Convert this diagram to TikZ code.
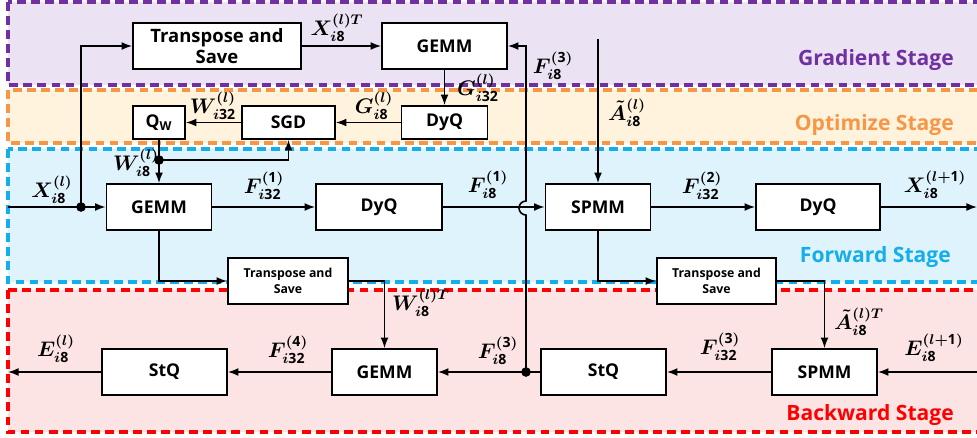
\documentclass[tikz,border=0pt]{standalone}
\usepackage{fontspec}
\setsansfont{Open Sans}
\usepackage{amsmath}
\usetikzlibrary{arrows.meta}
\definecolor{stgPurpleLine}{HTML}{7030A0}
\definecolor{stgPurpleBg}{HTML}{EBE3F3}
\definecolor{stgOrangeLine}{HTML}{F79646}
\definecolor{stgOrangeBg}{HTML}{FFF3DD}
\definecolor{stgBlueLine}{HTML}{14AEEA}
\definecolor{stgBlueBg}{HTML}{DFF3FC}
\definecolor{stgRedLine}{HTML}{FF0000}
\definecolor{stgRedBg}{HTML}{FDE4E4}
\newcommand{\qb}[1]{\text{\sffamily\bfseries #1}}
\tikzset{
  flow arrow/.style={
    -{Latex[length=6pt, width=4.5pt]},
    line width=0.9pt, color=black,
  },
  flow line/.style={line width=0.9pt, color=black},
  op box/.style={
    rectangle, draw=black, fill=white, line width=1pt,
    minimum height=0.92cm, inner sep=0pt,
    font=\sffamily\bfseries\fontsize{10}{11}\selectfont,
    align=center,
  },
  small box/.style={op box, minimum height=0.66cm},
  var label/.style={font=\fontsize{12}{14}\selectfont\boldmath, inner sep=0pt},
  stage area/.style={dash pattern=on 5pt off 3pt, line width=2.2pt},
  stage name/.style={font=\sffamily\bfseries\fontsize{12}{14}\selectfont, anchor=east},
  junction/.style={circle, fill=black, inner sep=0pt, minimum size=5.5pt},
}
\begin{document}
\begin{tikzpicture}[x=0.02cm, y=-0.02cm]
\useasboundingbox (0,0) rectangle (977,437);
\clip (0,0) rectangle (977,437);

% --- STAGE AREAS ---
\draw[stage area, draw=stgPurpleLine, fill=stgPurpleBg] (8,2) rectangle (995,85);
\draw[stage area, draw=stgOrangeLine, fill=stgOrangeBg] (8,90) rectangle (995,143);
\draw[stage area, draw=stgBlueLine, fill=stgBlueBg] (8,149) rectangle (995,282);
\draw[stage area, draw=stgRedLine, fill=stgRedBg] (8,290) rectangle (995,432);

\node[stage name, text=stgPurpleLine] (nGrad) at (960,60) {Gradient Stage};
\node[stage name, text=stgOrangeLine] (nOpt) at (960,125) {Optimize Stage};
\node[stage name, text=stgBlueLine] (nFwd) at (957,257) {Forward Stage};
\node[stage name, text=stgRedLine] (nBwd) at (960,415) {Backward Stage};

% --- GRADIENT / OPTIMIZE BLOCKS ---
\node[op box, minimum width=3.36cm, font=\sffamily\bfseries\fontsize{10.5}{12}\selectfont]
  (tsT) at (217,46) {Transpose and\\Save};
\node[op box, minimum width=2.5cm] (gemmT) at (444.5,46) {GEMM};
\node[small box, minimum width=1.04cm] (qw) at (159,122.5) {Q\textsubscript{W}};
\node[small box, minimum width=1.86cm] (sgd) at (288.5,122.5) {SGD};
\node[small box, minimum width=1.72cm] (dyqO) at (444.5,122.5) {DyQ};

% --- FORWARD BLOCKS ---
\node[op box, minimum width=2.1cm] (gemmF) at (159,207) {GEMM};
\node[op box, minimum width=2.52cm] (dyqF) at (379,207) {DyQ};
\node[op box, minimum width=2.1cm] (spmmF) at (598,207) {SPMM};
\node[op box, minimum width=2.48cm] (dyqF2) at (818,207) {DyQ};
\node[op box, minimum width=2.4cm, font=\sffamily\bfseries\fontsize{7}{9}\selectfont]
  (tsL) at (288,281) {Transpose and\\Save};
\node[op box, minimum width=2.38cm, font=\sffamily\bfseries\fontsize{7}{9}\selectfont]
  (tsR) at (716.5,281) {Transpose and\\Save};

% --- BACKWARD BLOCKS ---
\node[op box, minimum width=2.5cm] (stqL) at (164.5,372) {StQ};
\node[op box, minimum width=2.1cm] (gemmB) at (384.5,372) {GEMM};
\node[op box, minimum width=2.5cm] (stqR) at (603.5,372) {StQ};
\node[op box, minimum width=2.1cm] (spmmB) at (824.5,372) {SPMM};

% --- FREE ENDS AND JUNCTIONS ---
\coordinate (xin) at (8,207);
\coordinate (xout) at (977,207);
\coordinate (ein) at (977,372);
\coordinate (eout) at (8,372);
\coordinate (atin) at (598,39);
\node[junction] (jx) at (81,207) {};
\node[junction] (jw) at (159,160) {};
\node[junction] (jf) at (526,372) {};

% --- CONNECTORS ---
\draw[flow arrow] (xin) -- (gemmF.west);
\draw[flow arrow] (jx.center) |- (tsT.west);
\draw[flow arrow] (tsT) -- (gemmT);
\draw[flow arrow] (gemmT.south) -- (dyqO.north);
\draw[flow arrow] (dyqO) -- (sgd);
\draw[flow arrow] (sgd) -- (qw);
\draw[flow line] (qw.south) -- (jw.center);
\draw[flow arrow] (jw.center) -- (gemmF.north);
\draw[flow arrow] (jw.center) -| (sgd.south);
\foreach \a/\b in {gemmF/dyqF, dyqF/spmmF, spmmF/dyqF2} {
  \draw[flow arrow] (\a) -- (\b);
}
\draw[flow arrow] (dyqF2) -- (xout);
\draw[flow arrow] (atin) -- (spmmF.north);
\draw[flow arrow] (gemmF.south) |- (tsL.west);
\draw[flow arrow] (tsL.east) -| (gemmB.north);
\draw[flow arrow] (spmmF.south) |- (tsR.west);
\draw[flow arrow] (tsR.east) -| (spmmB.north);
\draw[flow arrow] (ein) -- (spmmB);
\draw[flow arrow] (spmmB) -- (stqR);
\draw[flow arrow] (stqR) -- (gemmB);
\draw[flow arrow] (gemmB) -- (stqL);
\draw[flow arrow] (stqL) -- (eout);
% hop over the forward line
\draw[flow arrow] (jf.center) -- (526,215)
  arc[start angle=270, end angle=90, radius=0.14cm] |- (gemmT.east);

% --- LABELS ---
\node[var label] (lxin) at (52,190) {$X^{(l)}_{i\qb{8}}$};
\node[var label] (lxt) at (337,28) {$X^{(l)T}_{i\qb{8}}$};
\node[var label] (lg32) at (478,88) {$G^{(l)}_{i\qb{32}}$};
\node[var label] (lg8) at (374,106) {$G^{(l)}_{i\qb{8}}$};
\node[var label] (lw32) at (213,106) {$W^{(l)}_{i\qb{32}}$};
\node[var label] (lw8) at (136,163) {$W^{(l)}_{i\qb{8}}$};
\node[var label] (lf1a) at (264,186) {$F^{(\qb{1})}_{i\qb{32}}$};
\node[var label] (lf1b) at (488,185) {$F^{(\qb{1})}_{i\qb{8}}$};
\node[var label] (lf2) at (702,186) {$F^{(\qb{2})}_{i\qb{32}}$};
\node[var label] (lxout) at (935,185) {$X^{(l+\qb{1})}_{i\qb{8}}$};
\node[var label] (lat) at (627,113) {$\tilde{A}^{(l)}_{i\qb{8}}$};
\node[var label] (lf3t) at (553,66) {$F^{(\qb{3})}_{i\qb{8}}$};
\node[var label] (lwt) at (421,303) {$W^{(l)T}_{i\qb{8}}$};
\node[var label] (latt) at (859,322) {$\tilde{A}^{(l)T}_{i\qb{8}}$};
\node[var label] (lein) at (934,348) {$E^{(l+\qb{1})}_{i\qb{8}}$};
\node[var label] (lf3a) at (720,347) {$F^{(\qb{3})}_{i\qb{32}}$};
\node[var label] (lf3b) at (498,351) {$F^{(\qb{3})}_{i\qb{8}}$};
\node[var label] (lf4) at (288,350) {$F^{(\qb{4})}_{i\qb{32}}$};
\node[var label] (leout) at (56,349) {$E^{(l)}_{i\qb{8}}$};

\end{tikzpicture}
\end{document}
